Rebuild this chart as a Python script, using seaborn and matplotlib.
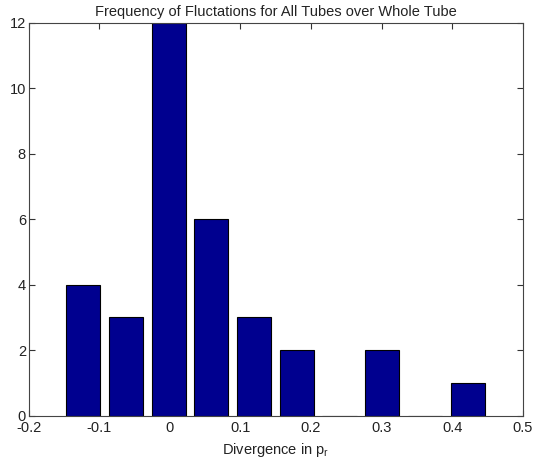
import matplotlib
matplotlib.use("Agg")
import matplotlib.pyplot as plt
import seaborn as sns
import numpy as np

# Histogram bin centres and counts
bin_centers = [-0.1226, -0.0621, -0.0016, 0.0589, 0.1194, 0.1800, 0.2405, 0.3010, 0.3615, 0.4220]
counts = [4, 3, 12, 6, 3, 2, 0, 2, 0, 1]
x_ticks = [-0.2, -0.1, 0, 0.1, 0.2, 0.3, 0.4, 0.5]
x_tick_labels = ["-0.2", "-0.1", "0", "0.1", "0.2", "0.3", "0.4", "0.5"]
y_ticks = [0, 2, 4, 6, 8, 10, 12]

sns.set_style("white")
plt.rcParams["font.family"] = ["Liberation Sans", "DejaVu Sans"]

fig = plt.figure(figsize=(5.34, 4.59), dpi=100)
ax = fig.add_axes([0.0537, 0.0943, 0.9251, 0.8562])

sns.barplot(x=bin_centers, y=counts, native_scale=True, width=0.8,
            color="#00008f", saturation=1, edgecolor="black", linewidth=0.8,
            ax=ax)

ax.set_xlim(-0.2, 0.5)
ax.set_ylim(0, 12)
ax.set_xticks(x_ticks)
ax.set_xticklabels(x_tick_labels)
ax.set_yticks(y_ticks)
ax.tick_params(direction="in", length=4, width=0.8, labelsize=10.5,
               top=True, right=True, bottom=True, left=True, colors="#333333",
               labelcolor="#222222", pad=2)
ax.tick_params(axis="x", pad=4)
for s in ax.spines.values():
    s.set_visible(True)
    s.set_color("#444444")
    s.set_linewidth(0.8)

ax.set_title("Frequency of Fluctations for All Tubes over Whole Tube",
             fontsize=10.5, color="#222222", pad=5)
ax.set_xlabel("Divergence in $\\mathregular{p_r}$", fontsize=10.5, color="#222222", labelpad=4)
ax.set_ylabel("")

fig.savefig("out.png", dpi=100)
